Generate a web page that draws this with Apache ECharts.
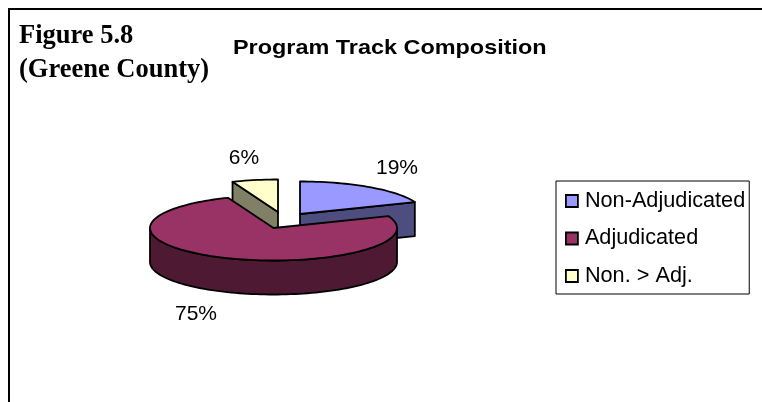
<!DOCTYPE html>
<html>
<head>
<meta charset="utf-8">
<style>
  html, body { margin: 0; padding: 0; background: #fff; }
  #chart { width: 762px; height: 402px; }
</style>
<script src="https://cdn.jsdelivr.net/npm/echarts@6/dist/echarts.min.js"></script>
</head>
<body>
<div id="chart"></div>
<script>
const categories = ['Non-Adjudicated', 'Adjudicated', 'Non. > Adj.'];
const shares = [19, 75, 6];

// tilted pie layout, the values only decide the angles
const CX = 273.5, CY = 228, RX = 123.5, RY = 32.5, DEPTH = 34;
const topColors = ['#9999FF', '#993366', '#FFFFCC'];
const cutColors = ['#4D4D80', '#4D1933', '#808066'];
const explode = [[26.5, -14], [0, 0], [4.5, -16]];
const labelAt = [[397, 168], [196, 314], [244, 158]];
const zOrder = [1, 3, 2];

const total = shares.reduce((a, b) => a + b, 0);

function rimPoint(deg, ox, oy, drop) {
  const t = deg * Math.PI / 180;
  return [CX + ox + RX * Math.sin(t), CY + oy - RY * Math.cos(t) + drop];
}

function arcPoints(from, to, ox, oy, drop) {
  const pts = [];
  const steps = Math.max(2, Math.ceil(Math.abs(to - from) / 2));
  for (let i = 0; i <= steps; i++) {
    pts.push(rimPoint(from + (to - from) * i / steps, ox, oy, drop));
  }
  return pts;
}

function face(points, fill) {
  return {
    type: 'polygon',
    shape: { points },
    style: { fill, stroke: '#000', lineWidth: 1.8, lineJoin: 'round' },
  };
}

function renderSlice(index, api) {
  const value = api.value(0);
  const before = shares.slice(0, index).reduce((a, b) => a + b, 0);
  const start = before / total * 360;
  const end = start + value / total * 360;
  const [ox, oy] = explode[index];
  const apex = [CX + ox, CY + oy];
  const apexLow = [apex[0], apex[1] + DEPTH];
  const children = [];

  // cut faces that look towards the viewer
  if (end > 0 && end < 180) {
    const a = rimPoint(end, ox, oy, 0);
    children.push(face([apex, a, [a[0], a[1] + DEPTH], apexLow], cutColors[index]));
  }
  if (start > 180 && start < 360) {
    const a = rimPoint(start, ox, oy, 0);
    children.push(face([apex, a, [a[0], a[1] + DEPTH], apexLow], cutColors[index]));
  }
  // front wall
  const wallFrom = Math.max(start, 90);
  const wallTo = Math.min(end, 270);
  if (wallTo > wallFrom) {
    children.push(face(
      arcPoints(wallFrom, wallTo, ox, oy, 0).concat(arcPoints(wallTo, wallFrom, ox, oy, DEPTH)),
      cutColors[index],
    ));
  }
  // top
  children.push(face([apex].concat(arcPoints(start, end, ox, oy, 0)), topColors[index]));
  children.push({
    type: 'text',
    style: {
      x: labelAt[index][0],
      y: labelAt[index][1],
      text: value + '%',
      fill: '#000',
      font: '21px "Liberation Sans", Arial, sans-serif',
      align: 'center',
      verticalAlign: 'middle',
    },
  });
  return { type: 'group', children };
}

const chart = echarts.init(document.getElementById('chart'), null, { renderer: 'canvas' });

chart.setOption({
  animation: false,
  backgroundColor: '#fff',
  title: [{
    text: 'Figure 5.8\n(Greene County)',
    left: 19,
    top: 19,
    textStyle: {
      fontFamily: '"Liberation Serif", "Times New Roman", serif',
      fontSize: 26.5,
      fontWeight: 'bold',
      lineHeight: 34,
      color: '#000',
    },
    padding: 0,
  }],
  legend: {
    orient: 'vertical',
    left: 556,
    top: 181,
    padding: [9, 4, 7, 9],
    itemGap: 15.5,
    itemWidth: 12,
    itemHeight: 12,
    icon: 'rect',
    borderColor: '#000',
    borderWidth: 1,
    backgroundColor: '#fff',
    selectedMode: false,
    data: categories,
    textStyle: {
      fontFamily: '"Liberation Sans", Arial, sans-serif',
      fontSize: 21.7,
      color: '#000',
      padding: [0, 0, 0, 2],
    },
    itemStyle: { borderColor: '#000', borderWidth: 1.8 },
  },
  graphic: [{
    type: 'polyline',
    shape: { points: [[9, 402], [9, 9], [762, 9]] },
    style: { fill: 'none', stroke: '#000', lineWidth: 2 },
    silent: true,
  }, {
    type: 'text',
    x: 233,
    y: 48.5,
    scaleX: 1.115,
    style: {
      text: 'Program Track Composition',
      fill: '#000',
      font: 'bold 21px "Liberation Sans", Arial, sans-serif',
      verticalAlign: 'middle',
    },
    silent: true,
  }],
  series: categories.map((name, i) => ({
    type: 'custom',
    name,
    coordinateSystem: 'none',
    z: zOrder[i],
    itemStyle: { color: topColors[i] },
    data: [[shares[i]]],
    renderItem: (params, api) => renderSlice(i, api),
  })),
});
</script>
</body>
</html>
